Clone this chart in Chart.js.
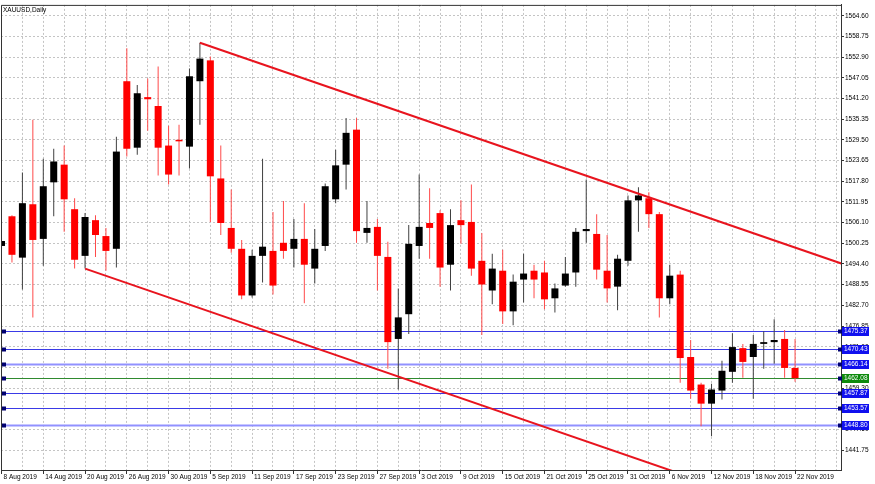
<!DOCTYPE html>
<html>
<head>
<meta charset="UTF-8">
<title>XAUUSD,Daily</title>
<script src="https://cdn.jsdelivr.net/npm/chart.js"></script>
<style>
  html, body { margin: 0; padding: 0; background: #fff; }
  #wrap { width: 875px; height: 484px; position: relative; }
</style>
</head>
<body>
<div id="wrap"><canvas id="chart"></canvas></div>
<script>
// symbol caption
const symbolTitle = 'XAUUSD,Daily';

// trading days (one bar each)
const days = [
  '8 Aug 2019','9 Aug 2019','12 Aug 2019','13 Aug 2019','14 Aug 2019','15 Aug 2019','16 Aug 2019','19 Aug 2019',
  '20 Aug 2019','21 Aug 2019','22 Aug 2019','23 Aug 2019','26 Aug 2019','27 Aug 2019','28 Aug 2019','29 Aug 2019','30 Aug 2019',
  '2 Sep 2019','3 Sep 2019','4 Sep 2019','5 Sep 2019','6 Sep 2019','9 Sep 2019','10 Sep 2019','11 Sep 2019','12 Sep 2019',
  '13 Sep 2019','16 Sep 2019','17 Sep 2019','18 Sep 2019','19 Sep 2019','20 Sep 2019','23 Sep 2019','24 Sep 2019','25 Sep 2019',
  '26 Sep 2019','27 Sep 2019','30 Sep 2019',
  '1 Oct 2019','2 Oct 2019','3 Oct 2019','4 Oct 2019','7 Oct 2019','8 Oct 2019','9 Oct 2019','10 Oct 2019','11 Oct 2019',
  '14 Oct 2019','15 Oct 2019','16 Oct 2019','17 Oct 2019','18 Oct 2019','21 Oct 2019','22 Oct 2019','23 Oct 2019','24 Oct 2019',
  '25 Oct 2019','28 Oct 2019','29 Oct 2019','30 Oct 2019','31 Oct 2019',
  '1 Nov 2019','4 Nov 2019','5 Nov 2019','6 Nov 2019','7 Nov 2019','8 Nov 2019','11 Nov 2019','12 Nov 2019','13 Nov 2019',
  '14 Nov 2019','15 Nov 2019','18 Nov 2019','19 Nov 2019','20 Nov 2019','21 Nov 2019','22 Nov 2019'
];

// OHLC
const opens = [
  1499.5,1507.9,1496.2,1511.3,1501.5,1517.5,1522.5,1509.9,1496.7,1506.8,1502.3,1498.7,1546.1,1527.3,1541.6,1539.1,1527.9,
  1529.5,1527.6,1546.1,1552.0,1518.6,1504.6,1498.7,1485.5,1496.7,1498.1,1500.4,1498.7,1501.5,1493.1,1499.5,1512.7,1522.5,
  1532.4,1503.2,1504.9,1496.4,
  1473.2,1480.2,1499.5,1506.0,1508.8,1494.2,1506.8,1506.3,1495.3,1486.9,1492.5,1481.0,1490.0,1492.5,1492.0,1484.7,1488.3,
  1492.0,1503.7,1502.9,1492.5,1488.0,1495.3,
  1512.4,1513.0,1508.5,1484.7,1491.4,1468.1,1460.3,1454.9,1458.6,1463.9,1470.6,1468.1,1471.8,1472.3,1473.2,1465.0
];
const highs = [
  1501.8,1508.2,1520.3,1535.2,1524.2,1527.0,1527.9,1513.0,1508.8,1508.2,1504.6,1530.4,1555.4,1545.0,1546.9,1550.3,1533.5,
  1533.8,1549.7,1557.0,1553.1,1527.9,1515.5,1501.2,1498.4,1524.2,1509.1,1512.2,1507.1,1511.6,1504.3,1517.2,1526.7,1535.7,
  1535.7,1512.2,1507.1,1500.7,
  1487.5,1505.4,1519.7,1515.8,1509.6,1509.9,1512.4,1516.9,1503.2,1497.3,1498.4,1491.4,1497.3,1494.2,1495.3,1488.9,1496.4,
  1504.6,1518.3,1508.5,1502.6,1497.0,1513.8,
  1516.1,1514.7,1509.1,1494.2,1492.5,1472.9,1460.8,1460.5,1467.0,1474.8,1471.8,1474.3,1475.4,1478.8,1475.7,1473.2
];
const lows = [
  1498.7,1494.8,1487.2,1479.3,1493.9,1507.9,1503.5,1493.1,1493.1,1496.4,1492.5,1493.4,1524.8,1525.3,1532.1,1519.4,1516.9,
  1519.4,1521.4,1533.8,1506.3,1502.6,1497.6,1484.4,1484.9,1489.2,1485.8,1495.9,1493.4,1483.3,1488.9,1498.1,1511.6,1515.5,
  1500.4,1500.4,1486.9,1464.8,
  1458.9,1474.6,1495.9,1495.9,1488.0,1486.9,1500.1,1491.1,1474.3,1483.0,1477.4,1477.1,1483.5,1484.7,1481.6,1480.7,1488.0,
  1488.0,1500.4,1490.0,1483.5,1481.3,1493.9,
  1503.5,1504.6,1479.3,1483.0,1460.8,1456.3,1448.5,1445.7,1456.1,1460.8,1462.2,1456.3,1464.8,1466.2,1462.2,1461.1
];
const closes = [
  1500.9,1497.0,1511.6,1501.2,1516.4,1523.4,1512.7,1495.6,1507.7,1502.6,1498.1,1526.2,1527.0,1542.7,1541.0,1527.3,1519.7,
  1529.1,1547.5,1552.5,1519.2,1506.0,1498.7,1485.5,1496.7,1499.3,1488.3,1498.1,1501.5,1494.2,1498.7,1516.4,1522.3,1531.5,
  1503.7,1504.6,1496.7,1472.3,
  1479.3,1500.1,1504.9,1504.6,1493.4,1505.4,1505.4,1493.1,1488.6,1493.1,1481.0,1489.4,1491.7,1490.0,1484.4,1487.5,1491.7,
  1503.5,1504.3,1492.8,1487.5,1495.9,1512.4,
  1513.8,1508.5,1484.7,1491.1,1467.8,1458.6,1454.9,1458.9,1464.2,1470.9,1466.7,1471.8,1472.3,1472.9,1465.0,1462.1
];

// right-hand price scale
const priceTicks = [
  1564.60,1558.75,1552.90,1547.05,1541.20,1535.35,1529.50,1523.65,1517.80,1511.95,1506.10,
  1500.25,1494.40,1488.55,1482.70,1476.85,1471.00,1465.15,1459.30,1453.45,1447.60,1441.75
];

// horizontal levels and current bid
const levels = [1475.37, 1470.43, 1466.14, 1457.87, 1453.57, 1448.80];
const bidPrice = 1462.08;

// trend channel anchors: [bar index, price]
const upperTrend = [[19, 1557.0], [90, 1484.8]];
const lowerTrend = [[8, 1493.1], [70, 1430.0]];

// ---- build datasets ----
const bull = [], bear = [];
opens.forEach((o, i) => (closes[i] >= o ? bull : bear).push(i));
const bodies = idx => idx.map(i => ({ x: i, y: [opens[i], closes[i]] }));
const wicks = idx => idx.map(i => ({ x: i, y: [lows[i], highs[i]] }));

const lightLevels = [1466.14, 1448.80];
const FONT = { family: '"Liberation Sans", Arial, sans-serif', size: 6.5 };

const framePlugin = {
  id: 'frame',
  beforeDatasetsDraw(chart) {
    const { ctx, chartArea: a, scales: { y } } = chart;
    ctx.save();
    levels.forEach(v => {
      const py = Math.round(y.getPixelForValue(v)) + 0.5;
      const light = lightLevels.includes(v);
      ctx.strokeStyle = light ? '#9191ff' : '#3a3ae6';
      ctx.lineWidth = light ? 2 : 1;
      ctx.beginPath(); ctx.moveTo(a.left, py); ctx.lineTo(a.right, py); ctx.stroke();
    });
    const gy = Math.round(y.getPixelForValue(bidPrice)) + 0.5;
    ctx.strokeStyle = '#2f8a2f'; ctx.lineWidth = 1;
    ctx.beginPath(); ctx.moveTo(a.left, gy); ctx.lineTo(a.right, gy); ctx.stroke();
    ctx.restore();
  },
  afterDraw(chart) {
    const { ctx, chartArea: a, scales: { y } } = chart;
    ctx.save();
    // top / left frame
    ctx.strokeStyle = '#333'; ctx.lineWidth = 1;
    ctx.beginPath();
    ctx.moveTo(a.left + 0.5, a.bottom); ctx.lineTo(a.left + 0.5, a.top + 0.5); ctx.lineTo(a.right, a.top + 0.5);
    ctx.stroke();
    // caption
    ctx.fillStyle = '#000';
    ctx.font = `${FONT.size}px ${FONT.family}`;
    ctx.textBaseline = 'top'; ctx.textAlign = 'left';
    ctx.fillText(symbolTitle, a.left + 2, a.top + 2);
    // level markers and price boxes
    ctx.textBaseline = 'middle';
    const box = (v, fill) => {
      const py = Math.round(y.getPixelForValue(v));
      ctx.fillStyle = '#000070';
      ctx.fillRect(a.left + 1, py - 1.5, 4, 4);
      ctx.fillRect(a.right - 3, py - 1.5, 4, 4);
      ctx.fillStyle = fill;
      ctx.fillRect(a.right + 1, py - 4, 27, 9);
      ctx.fillStyle = '#fff';
      ctx.fillText(v.toFixed(2), a.right + 3, py + 0.5);
    };
    levels.forEach(v => box(v, '#1010ee'));
    box(bidPrice, '#0d8a0d');
    ctx.restore();
  }
};

const trendLine = pts => ({
  type: 'line',
  data: pts.map(p => ({ x: p[0], y: p[1] })),
  borderColor: '#e8141e',
  borderWidth: 2,
  pointRadius: 0,
  fill: false,
  clip: 0
});

const barSet = (data, color, width, minLen) => ({
  type: 'bar',
  data,
  backgroundColor: color,
  borderWidth: 0,
  barThickness: width,
  grouped: false,
  inflateAmount: 0,
  minBarLength: minLen,
  clip: 0
});

new Chart(document.getElementById('chart'), {
  type: 'bar',
  data: {
    datasets: [
      trendLine(upperTrend),
      trendLine(lowerTrend),
      barSet(bodies(bull), '#000000', 7, 1.5),
      barSet(bodies(bear), '#ff0000', 7, 1.5),
      barSet(wicks(bull), '#404040', 1, 0),
      barSet(wicks(bear), '#ff4a4a', 1, 0)
    ]
  },
  options: {
    responsive: true,
    maintainAspectRatio: false,
    animation: false,
    layout: { padding: { left: 1, top: 1, right: 0, bottom: 0 } },
    plugins: { legend: { display: false }, tooltip: { enabled: false } },
    scales: {
      x: {
        type: 'linear',
        min: -0.05,
        max: 80.4,
        offset: false,
        afterBuildTicks: s => {
          const t = [];
          for (let v = 0; v <= 80; v += 2) t.push({ value: v });
          s.ticks = t;
        },
        afterFit: s => { s.height = 14; },
        grid: {
          offset: false,
          color: '#c4c4c4',
          lineWidth: 1,
          tickLength: 4,
          tickColor: c => (c.tick && c.tick.value % 4 === 0 && c.tick.value <= 76) ? '#333' : 'rgba(0,0,0,0)'
        },
        border: { display: true, color: '#333', width: 1, dash: [2, 2] },
        ticks: {
          autoSkip: false,
          maxRotation: 0,
          align: 'start',
          labelOffset: 2,
          padding: -1,
          color: '#000',
          font: FONT,
          callback: v => (v % 4 === 0 && v <= 76) ? days[v] : ''
        }
      },
      y: {
        type: 'linear',
        position: 'right',
        min: 1436.13,
        max: 1567.69,
        afterBuildTicks: s => { s.ticks = priceTicks.map(v => ({ value: v })); },
        afterFit: s => { s.width = 34; },
        grid: { color: '#c4c4c4', lineWidth: 1, tickLength: 3, tickColor: '#333' },
        border: { display: true, color: '#333', width: 1, dash: [2, 2] },
        ticks: {
          autoSkip: false,
          padding: 1,
          color: '#000',
          font: FONT,
          callback: v => Number(v).toFixed(2)
        }
      }
    }
  },
  plugins: [framePlugin]
});
</script>
</body>
</html>
